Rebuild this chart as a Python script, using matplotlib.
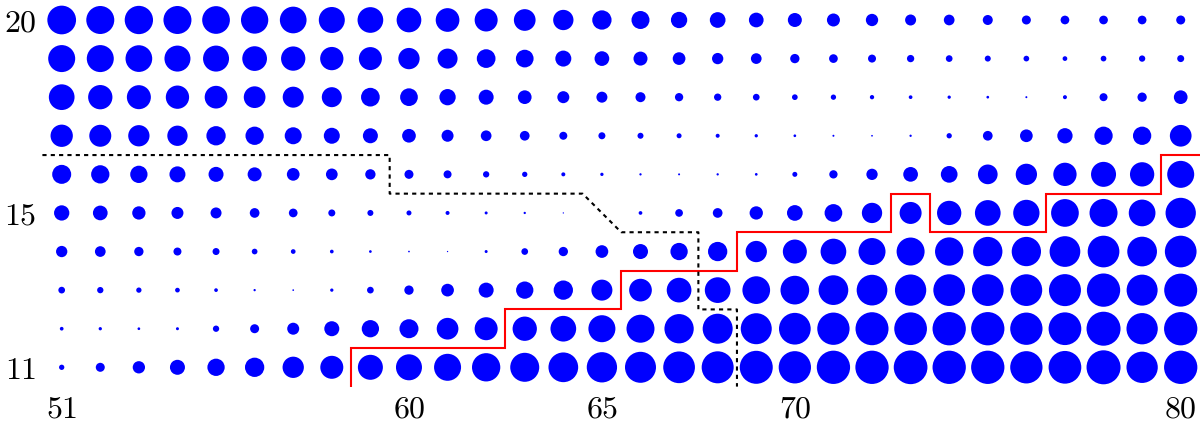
import numpy as np
import matplotlib.pyplot as plt

plt.rcParams['mathtext.fontset'] = 'cm'

# grid of columns (x) and rows (y)
cols = list(range(51, 81))
rows = list(range(11, 21))

# dot magnitude per cell, one list per row (row 11 ... row 20)
mag = [
    [5.3, 9, 12.3, 15, 17.3, 19.3, 21.3, 23, 25, 26, 27, 28.3, 29, 29.7, 30.3, 31, 31.7, 32, 33, 32.3, 33.3, 33.3, 33.7, 33.3, 33.3, 32.3, 32.7, 34, 31.3, 33.3],
    [3.7, 3.3, 2.7, 3, 6.3, 9, 12, 15, 17.3, 19, 21.7, 23, 24.3, 25.7, 27, 28, 29.3, 30, 31, 31.7, 32.3, 33, 32.7, 33.3, 33.3, 32.3, 32.7, 34, 31.3, 33.3],
    [6.7, 6.3, 5.3, 4.7, 3.7, 2.3, 1.7, 3.3, 6.7, 9.3, 12.7, 15, 17.3, 19.3, 21, 22.7, 24.7, 25.7, 27.7, 28.7, 29.7, 30.7, 31.3, 31.7, 31.7, 31.7, 32, 33.3, 31, 33],
    [11.3, 10.7, 9.3, 8, 7, 5.7, 4.7, 3.7, 2.7, 1.7, 1.3, 3, 6.7, 9.3, 12.7, 15, 17.3, 19.3, 21.3, 24, 25.7, 27, 28, 28.3, 29.3, 29.3, 30.7, 31.7, 29.7, 31.7],
    [15.3, 14.7, 13.3, 12, 11, 9.7, 8.7, 7, 6, 5, 4, 3, 2.3, 1.3, 0, 3.7, 7.7, 9.7, 13.3, 15.7, 17.7, 20.3, 22, 24.3, 25.7, 26.3, 27.7, 28, 26.7, 30.3],
    [19, 18.3, 17.3, 16, 15, 14, 12.7, 11.7, 10.3, 9, 8, 6.3, 5.3, 4, 3.3, 2.3, 2, 2.3, 2.7, 5, 8.3, 11.3, 14.7, 16.7, 19.7, 21.3, 23.3, 25, 24.3, 27],
    [22.3, 22, 21.3, 20.3, 19.3, 18.3, 17, 16, 15, 13.7, 12, 10.7, 9.7, 8, 7, 6, 5, 4, 3.3, 2.7, 2, 1.7, 2.3, 5.3, 9.7, 12.7, 15.3, 18.3, 18.3, 21.7],
    [25.7, 24.3, 24, 23.3, 22.7, 21.7, 21, 20, 18.7, 17.7, 16.3, 15, 13.7, 12, 11, 10, 8.3, 7.3, 6.7, 5.7, 5.3, 4.3, 3.7, 3.3, 2.7, 2, 4, 8, 9.3, 13.7],
    [27, 27, 26.7, 26, 26, 24.7, 24.3, 23.3, 23, 21.3, 20, 18.7, 17.7, 16, 14.7, 14, 12.7, 11.3, 10.7, 9.3, 8.7, 8, 7.3, 6.7, 6, 5.7, 4.7, 5.7, 6.3, 7],
    [28.7, 28, 28.3, 28, 27.7, 27.3, 26.7, 26, 25.7, 24.7, 23.7, 23, 21.7, 20.3, 19.3, 18, 16.3, 15.7, 14.7, 14, 13, 12.3, 11, 10.7, 10, 9, 8.7, 8.7, 8.7, 9],
]

# red boundary
red_x = [58.5, 58.5, 62.5, 62.5, 65.5, 65.5, 68.5, 68.5, 72.5, 72.5, 73.5, 73.5, 76.5, 76.5, 79.5, 79.5, 80.5]
red_y = [10.5, 11.5, 11.5, 12.5, 12.5, 13.5, 13.5, 14.5, 14.5, 15.5, 15.5, 14.5, 14.5, 15.5, 15.5, 16.5, 16.5]

# black dotted boundary
blk_x = [50.5, 59.5, 59.5, 64.5, 65.5, 67.5, 67.5, 68.5, 68.5]
blk_y = [16.5, 16.5, 15.5, 15.5, 14.5, 14.5, 12.5, 12.5, 10.5]

xticks = [51, 60, 65, 70, 80]
yticks = [11, 15, 20]

dpi = 100
fig = plt.figure(figsize=(12.03, 4.24), dpi=dpi)
ax = fig.add_axes([42.4 / 1203, 37.4 / 424, 1157.6 / 1203, 385.9 / 424])

X, Y = np.meshgrid(cols, rows)
M = np.array(mag)
# magnitude is in pixel diameter -> marker area in pt^2
s = (M * 72 / dpi) ** 2
ax.scatter(X.ravel(), Y.ravel(), s=s.ravel(), c='#0000ff', linewidths=0, zorder=2)

ax.plot(red_x, red_y, color='red', lw=1.5, zorder=3, solid_joinstyle='miter')
ax.plot(blk_x, blk_y, color='black', lw=1.5, dashes=(2, 2), zorder=3)

ax.set_xlim(50.5, 80.5)
ax.set_ylim(10.5, 20.5)
ax.set_xticks(xticks)
ax.set_xticklabels([f'${t}$' for t in xticks])
ax.set_yticks(yticks)
ax.set_yticklabels([f'${t}$' for t in yticks])
ax.tick_params(axis='both', length=0, labelsize=23)
ax.tick_params(axis='x', pad=5)
ax.tick_params(axis='y', pad=4)
for sp in ax.spines.values():
    sp.set_visible(False)
ax.patch.set_alpha(0)

fig.savefig('out.png', dpi=dpi)
